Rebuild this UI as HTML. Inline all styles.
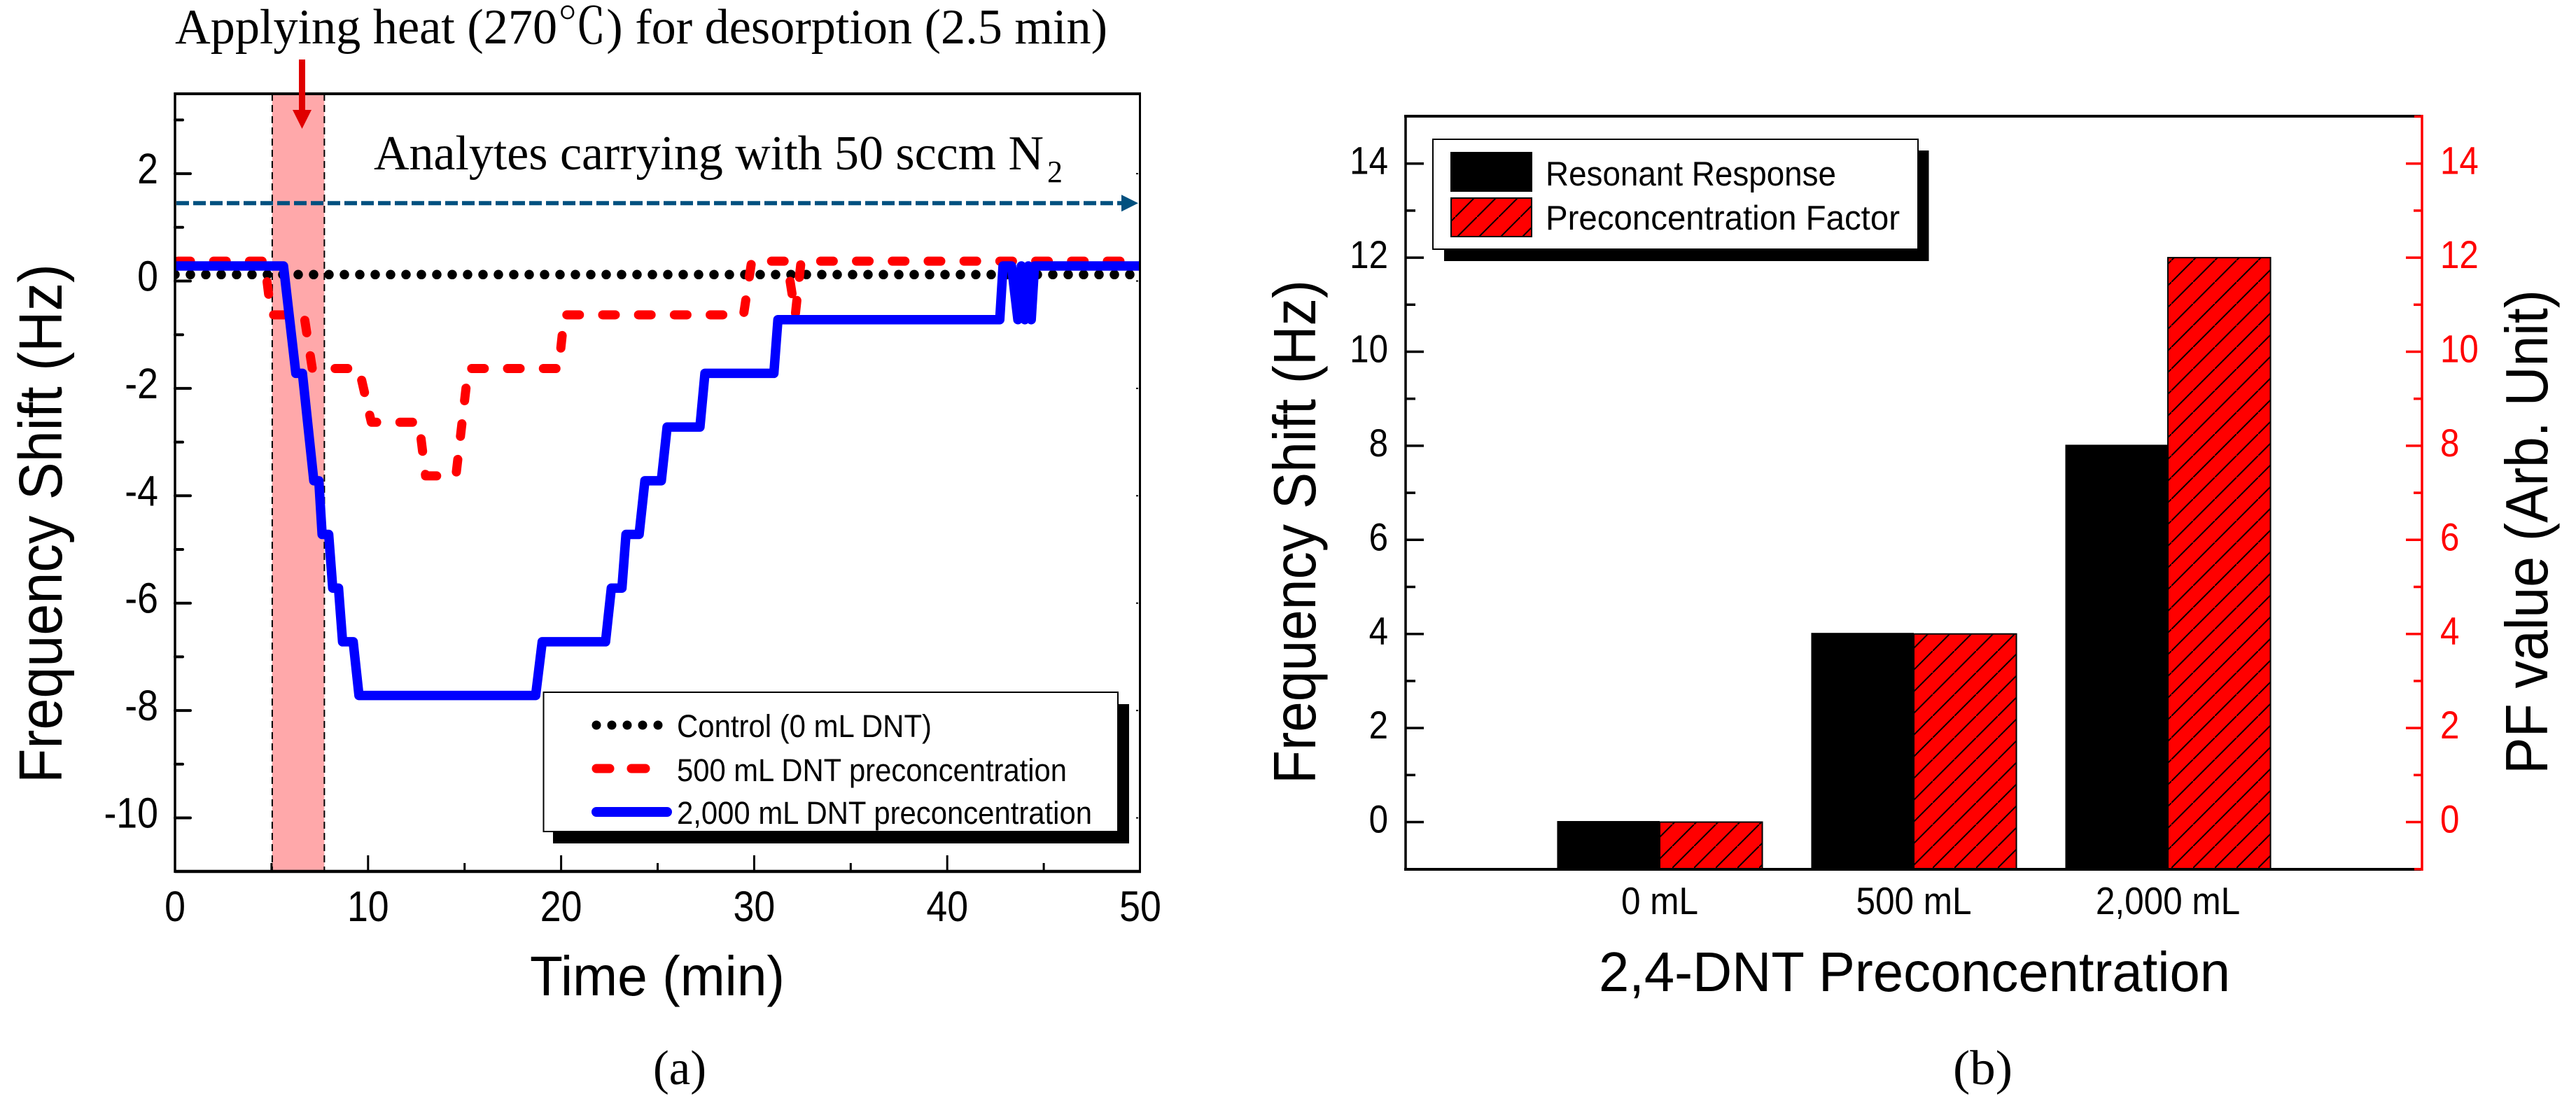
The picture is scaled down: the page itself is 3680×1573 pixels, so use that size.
<!DOCTYPE html>
<html lang="en">
<head>
<meta charset="utf-8">
<title>Frequency shift and preconcentration charts</title>
<style>
html,body{margin:0;padding:0;background:#fff;}
svg{display:block;}
text{fill:#000;font-family:"Liberation Sans","Noto Sans CJK SC",sans-serif;}
.serif{font-family:"Liberation Serif","Noto Serif CJK SC",serif;}
</style>
</head>
<body>
<svg id="figure" xmlns="http://www.w3.org/2000/svg" width="3680" height="1573" viewBox="0 0 3680 1573">
  <defs>
    <clipPath id="plotClipA"><rect x="250" y="134" width="1379" height="1111"/></clipPath>
    <pattern id="hatch" patternUnits="userSpaceOnUse" width="31" height="31" x="2" y="0">
      <rect width="31" height="31" fill="#ff0000"/>
      <path d="M-4 35 L35 -4" stroke="#000" stroke-width="2" fill="none"/>
    </pattern>
  </defs>

  <g id="chartA">
    <g id="bandA"></g>
    <g id="seriesA" clip-path="url(#plotClipA)"></g>
    <g id="carrierA"></g>
    <g id="axesA"></g>

    <text class="serif" x="250" y="62" font-size="71" textLength="1332" lengthAdjust="spacingAndGlyphs">Applying heat (270℃) for desorption (2.5 min)</text>
    <g>
      <rect x="427" y="85" width="9" height="75" fill="#e00000"/>
      <polygon points="418,157 445,157 431.5,184" fill="#e00000"/>
    </g>
    <text class="serif" x="534" y="242" font-size="70" textLength="957" lengthAdjust="spacingAndGlyphs">Analytes carrying with 50 sccm N</text>
    <text class="serif" x="1496" y="260" font-size="44">2</text>

    <text transform="translate(88 1119) rotate(-90)" font-size="87" textLength="742" lengthAdjust="spacingAndGlyphs">Frequency Shift (Hz)</text>
    <text x="757" y="1422" font-size="80" textLength="364" lengthAdjust="spacingAndGlyphs">Time (min)</text>
    <text class="serif" x="933" y="1549" font-size="70" textLength="76" lengthAdjust="spacingAndGlyphs">(a)</text>

    <g>
      <rect x="790" y="1006" width="823" height="199" fill="#000"/>
      <rect x="776.5" y="989" width="820.5" height="199" fill="#fff" stroke="#000" stroke-width="2"/>
      <g>
        <line x1="852" y1="1036" x2="941" y2="1036" stroke="#000" stroke-width="13" stroke-linecap="round" stroke-dasharray="0 22"/>
        <text x="967" y="1053" font-size="45" textLength="364" lengthAdjust="spacingAndGlyphs">Control (0 mL DNT)</text>
      </g>
      <g>
        <line x1="852" y1="1098" x2="871" y2="1098" stroke="#ff0000" stroke-width="13" stroke-linecap="round"/>
        <line x1="902" y1="1098" x2="922" y2="1098" stroke="#ff0000" stroke-width="13" stroke-linecap="round"/>
        <text x="967" y="1116" font-size="45" textLength="557" lengthAdjust="spacingAndGlyphs">500 mL DNT preconcentration</text>
      </g>
      <g>
        <line x1="852" y1="1160" x2="953" y2="1160" stroke="#0000ff" stroke-width="14" stroke-linecap="round"/>
        <text x="967" y="1177" font-size="45" textLength="593" lengthAdjust="spacingAndGlyphs">2,000 mL DNT preconcentration</text>
      </g>
    </g>
  </g>

  <g id="chartB">
    <g id="barsB"></g>
    <g id="axesB"></g>

    <text transform="translate(1879 1120) rotate(-90)" font-size="85" textLength="720" lengthAdjust="spacingAndGlyphs">Frequency Shift (Hz)</text>
    <text transform="translate(3639 1106) rotate(-90)" font-size="85" textLength="692" lengthAdjust="spacingAndGlyphs">PF value (Arb. Unit)</text>
    <text x="2284" y="1416" font-size="80" textLength="902" lengthAdjust="spacingAndGlyphs">2,4-DNT Preconcentration</text>
    <text class="serif" x="2790" y="1549" font-size="70" textLength="85" lengthAdjust="spacingAndGlyphs">(b)</text>

    <g>
      <rect x="2063" y="215" width="692.5" height="158" fill="#000"/>
      <rect x="2047" y="199" width="693" height="157" fill="#fff" stroke="#000" stroke-width="2"/>
      <g>
        <rect x="2072" y="217" width="117" height="57" fill="#000"/>
        <text x="2208" y="265" font-size="49" textLength="415" lengthAdjust="spacingAndGlyphs">Resonant Response</text>
      </g>
      <g>
        <rect x="2073" y="283" width="115" height="55" fill="url(#hatch)" stroke="#000" stroke-width="2"/>
        <text x="2208" y="328" font-size="49" textLength="506" lengthAdjust="spacingAndGlyphs">Preconcentration Factor</text>
      </g>
    </g>
  </g>
</svg>

<script>
// Panel (a) data
const controlTime = [0, 50];
const controlShift = [0.12, 0.12];
const dnt500Time = [0, 4.64, 4.98, 6.68, 7.11, 9.53, 10.17, 12.64, 12.98, 14.55, 15.19, 19.87, 20.17, 29.45, 29.87, 31.7, 32.13, 32.43, 50];
const dnt500Shift = [0.37, 0.37, -0.63, -0.63, -1.63, -1.63, -2.63, -2.63, -3.63, -3.63, -1.63, -1.63, -0.63, -0.63, 0.37, 0.37, -0.63, 0.37, 0.37];
const dnt2000Time = [0, 5.62, 6.26, 6.6, 7.19, 7.45, 7.62, 7.96, 8.17, 8.47, 8.68, 9.23, 9.53, 18.68, 19.02, 22.3, 22.6, 23.15, 23.36, 24.04, 24.34, 25.19, 25.49, 27.19, 27.45, 31.02, 31.23, 42.72, 42.89, 43.33, 43.66, 43.84, 44.02, 44.2, 44.35, 44.52, 50];
const dnt2000Shift = [0.28, 0.28, -1.72, -1.72, -3.72, -3.72, -4.72, -4.72, -5.72, -5.72, -6.72, -6.72, -7.72, -7.72, -6.72, -6.72, -5.72, -5.72, -4.72, -4.72, -3.72, -3.72, -2.72, -2.72, -1.72, -1.72, -0.72, -0.72, 0.28, 0.28, -0.72, 0.28, -0.72, 0.28, -0.72, 0.28, 0.28];
const heatWindow = [5, 7.7];
const carrierShift = [1.45];
const timeMajorTicks = [0, 10, 20, 30, 40, 50];
const timeMinorTicks = [5, 15, 25, 35, 45];
const shiftMajorTicks = [2, 0, -2, -4, -6, -8, -10];
const shiftMinorTicks = [3, 1, -1, -3, -5, -7, -9];

// Panel (b) data
const doseCategories = ['0 mL', '500 mL', '2,000 mL'];
const resonantResponse = [0, 4, 8];
const preconcentrationFactor = [0, 4, 12];
const responseMajorTicks = [0, 2, 4, 6, 8, 10, 12, 14];
const responseMinorTicks = [1, 3, 5, 7, 9, 11, 13];

// Axis functions
function xA(t) { return 250 + (t / 50) * 1379; }
function yA(v) { return 401.5 - v * 76.7; }
function xB(c) { return 2008 + (c / 4) * 1452; }
function yB(v) { return 1174.5 - v * 67.2; }

const SVGNS = 'http://www.w3.org/2000/svg';
function make(tag, attrs, parent) {
  const el = document.createElementNS(SVGNS, tag);
  for (const k in attrs) el.setAttribute(k, attrs[k]);
  parent.appendChild(el);
  return el;
}
function tickLabel(str, x, y, size, anchor, color, squeeze, parent) {
  const el = make('text', {
    transform: 'translate(' + x + ' ' + y + ') scale(' + squeeze + ' 1)',
    'font-size': size,
    'text-anchor': anchor
  }, parent);
  el.style.fill = color;
  el.textContent = str;
  return el;
}
function pointsFrom(xs, ys, fx, fy) {
  return xs.map(function (x, i) { return fx(x) + ',' + fy(ys[i]); }).join(' ');
}

// ---------- Panel (a) ----------
const bandA = document.getElementById('bandA');
const band = make('rect', {
  x: xA(heatWindow[0]) + 1, y: 134,
  width: xA(heatWindow[1]) - xA(heatWindow[0]), height: 1111,
  fill: '#ffa8aa'
}, bandA);


heatWindow.forEach(function (t) {
  const edge = make('line', {
    x1: xA(t) + 1, x2: xA(t) + 1, y1: 134, y2: 1245,
    stroke: '#000', 'stroke-width': 2, 'stroke-dasharray': '10 6'
  }, bandA);
  
  
});

const seriesA = document.getElementById('seriesA');
const controlLine = make('polyline', {
  points: pointsFrom(controlTime, controlShift, xA, yA),
  fill: 'none', stroke: '#000', 'stroke-width': 13.5,
  'stroke-linecap': 'round', 'stroke-dasharray': '0 22'
}, seriesA);



const line500 = make('polyline', {
  points: pointsFrom(dnt500Time, dnt500Shift, xA, yA),
  fill: 'none', stroke: '#ff0000', 'stroke-width': 13,
  'stroke-linecap': 'round', 'stroke-linejoin': 'round',
  'stroke-dasharray': '18 33.2', 'stroke-dashoffset': 47.2
}, seriesA);



const line2000 = make('polyline', {
  points: pointsFrom(dnt2000Time, dnt2000Shift, xA, yA),
  fill: 'none', stroke: '#0000ff', 'stroke-width': 13.5,
  'stroke-linejoin': 'round'
}, seriesA);



const carrierA = document.getElementById('carrierA');
const carrierLine = make('line', {
  x1: xA(0) + 2, x2: 1604, y1: yA(carrierShift[0]), y2: yA(carrierShift[0]),
  stroke: '#00507f', 'stroke-width': 6, 'stroke-dasharray': '18 6'
}, carrierA);


const carrierHead = make('polygon', {
  points: '1602,' + (yA(carrierShift[0]) - 12) + ' 1626,' + yA(carrierShift[0]) + ' 1602,' + (yA(carrierShift[0]) + 12),
  fill: '#00507f'
}, carrierA);



const axesA = document.getElementById('axesA');
const frameLines = [
  [250, 134, 1630, 134, 4], [250, 1245, 1630, 1245, 4.5],
  [250, 132, 250, 1247, 3.5], [1628.5, 132, 1628.5, 1247, 3]
];
frameLines.forEach(function (f) {
  const ln = make('line', { x1: f[0], y1: f[1], x2: f[2], y2: f[3], stroke: '#000', 'stroke-width': f[4] }, axesA);
  
  
});
timeMajorTicks.forEach(function (t) {
  if (t !== 0 && t !== 50) {
    const tk = make('line', { x1: xA(t), x2: xA(t), y1: 1245, y2: 1222, stroke: '#000', 'stroke-width': 3 }, axesA);
    
    
  }
  const lb = tickLabel(String(t), xA(t), 1316, 61, 'middle', '#000', 0.88, axesA);
  
  
});
timeMinorTicks.forEach(function (t) {
  const tk = make('line', { x1: xA(t), x2: xA(t), y1: 1245, y2: 1233, stroke: '#000', 'stroke-width': 3 }, axesA);
  
  
});
shiftMajorTicks.forEach(function (v) {
  const tk = make('line', { x1: 250, x2: 272, y1: yA(v), y2: yA(v), stroke: '#000', 'stroke-width': 4, 'stroke-linecap': 'round' }, axesA);
  
  
  const nub = make('line', { x1: 1626, x2: 1623, y1: yA(v), y2: yA(v), stroke: '#000', 'stroke-width': 2 }, axesA);
  
  
  const lb = tickLabel(String(v), 226, yA(v) + 14, 61, 'end', '#000', 0.88, axesA);
  
  
});
shiftMinorTicks.forEach(function (v) {
  const tk = make('line', { x1: 250, x2: 261, y1: yA(v), y2: yA(v), stroke: '#000', 'stroke-width': 4, 'stroke-linecap': 'round' }, axesA);
  
  
});

// ---------- Panel (b) ----------
const barsB = document.getElementById('barsB');
const barWidth = xB(1.4037) - xB(1);
doseCategories.forEach(function (c, i) {
  const cx = xB(i + 1);
  const bottom = yB(-1);
  const rr = make('rect', {
    x: cx - barWidth, y: yB(resonantResponse[i]) - 1.5,
    width: barWidth, height: bottom - yB(resonantResponse[i]) + 1.5,
    fill: '#000'
  }, barsB);
  
  
  const pf = make('rect', {
    x: cx, y: yB(preconcentrationFactor[i]),
    width: barWidth, height: bottom - yB(preconcentrationFactor[i]),
    fill: 'url(#hatch)', stroke: '#000', 'stroke-width': 2
  }, barsB);
  
  
});

const axesB = document.getElementById('axesB');
const topB = make('line', { x1: 2006, x2: 3460, y1: 166, y2: 166, stroke: '#000', 'stroke-width': 4 }, axesB);


const bottomB = make('line', { x1: 2006, x2: 3460, y1: 1242, y2: 1242, stroke: '#000', 'stroke-width': 4 }, axesB);


const leftB = make('line', { x1: 2008, x2: 2008, y1: 164, y2: 1244, stroke: '#000', 'stroke-width': 3.5 }, axesB);


const rightB = make('line', { x1: 3460, x2: 3460, y1: 164, y2: 1244, stroke: '#ff0000', 'stroke-width': 3.5 }, axesB);


[15, -1].forEach(function (v) {
  const tk = make('line', { x1: 3460, x2: 3449, y1: yB(v), y2: yB(v), stroke: '#ff0000', 'stroke-width': 3.5 }, axesB);
  
  
});
responseMajorTicks.forEach(function (v) {
  const tkL = make('line', { x1: 2008, x2: 2034, y1: yB(v), y2: yB(v), stroke: '#000', 'stroke-width': 3.5 }, axesB);
  
  
  const tkR = make('line', { x1: 3460, x2: 3437, y1: yB(v), y2: yB(v), stroke: '#ff0000', 'stroke-width': 3.5 }, axesB);
  
  
  const lbL = tickLabel(String(v), 1983, yB(v) + 15, 56, 'end', '#000', 0.88, axesB);
  
  
  const lbR = tickLabel(String(v), 3486, yB(v) + 15, 56, 'start', '#ff0000', 0.88, axesB);
  
  
});
responseMinorTicks.forEach(function (v) {
  const tkL = make('line', { x1: 2008, x2: 2022, y1: yB(v), y2: yB(v), stroke: '#000', 'stroke-width': 3.5 }, axesB);
  
  
  const tkR = make('line', { x1: 3460, x2: 3448, y1: yB(v), y2: yB(v), stroke: '#ff0000', 'stroke-width': 3.5 }, axesB);
  
  
});
doseCategories.forEach(function (c, i) {
  const lb = tickLabel(c, xB(i + 1), 1306, 55, 'middle', '#000', 0.9, axesB);
  
  
});
</script>
</body>
</html>
